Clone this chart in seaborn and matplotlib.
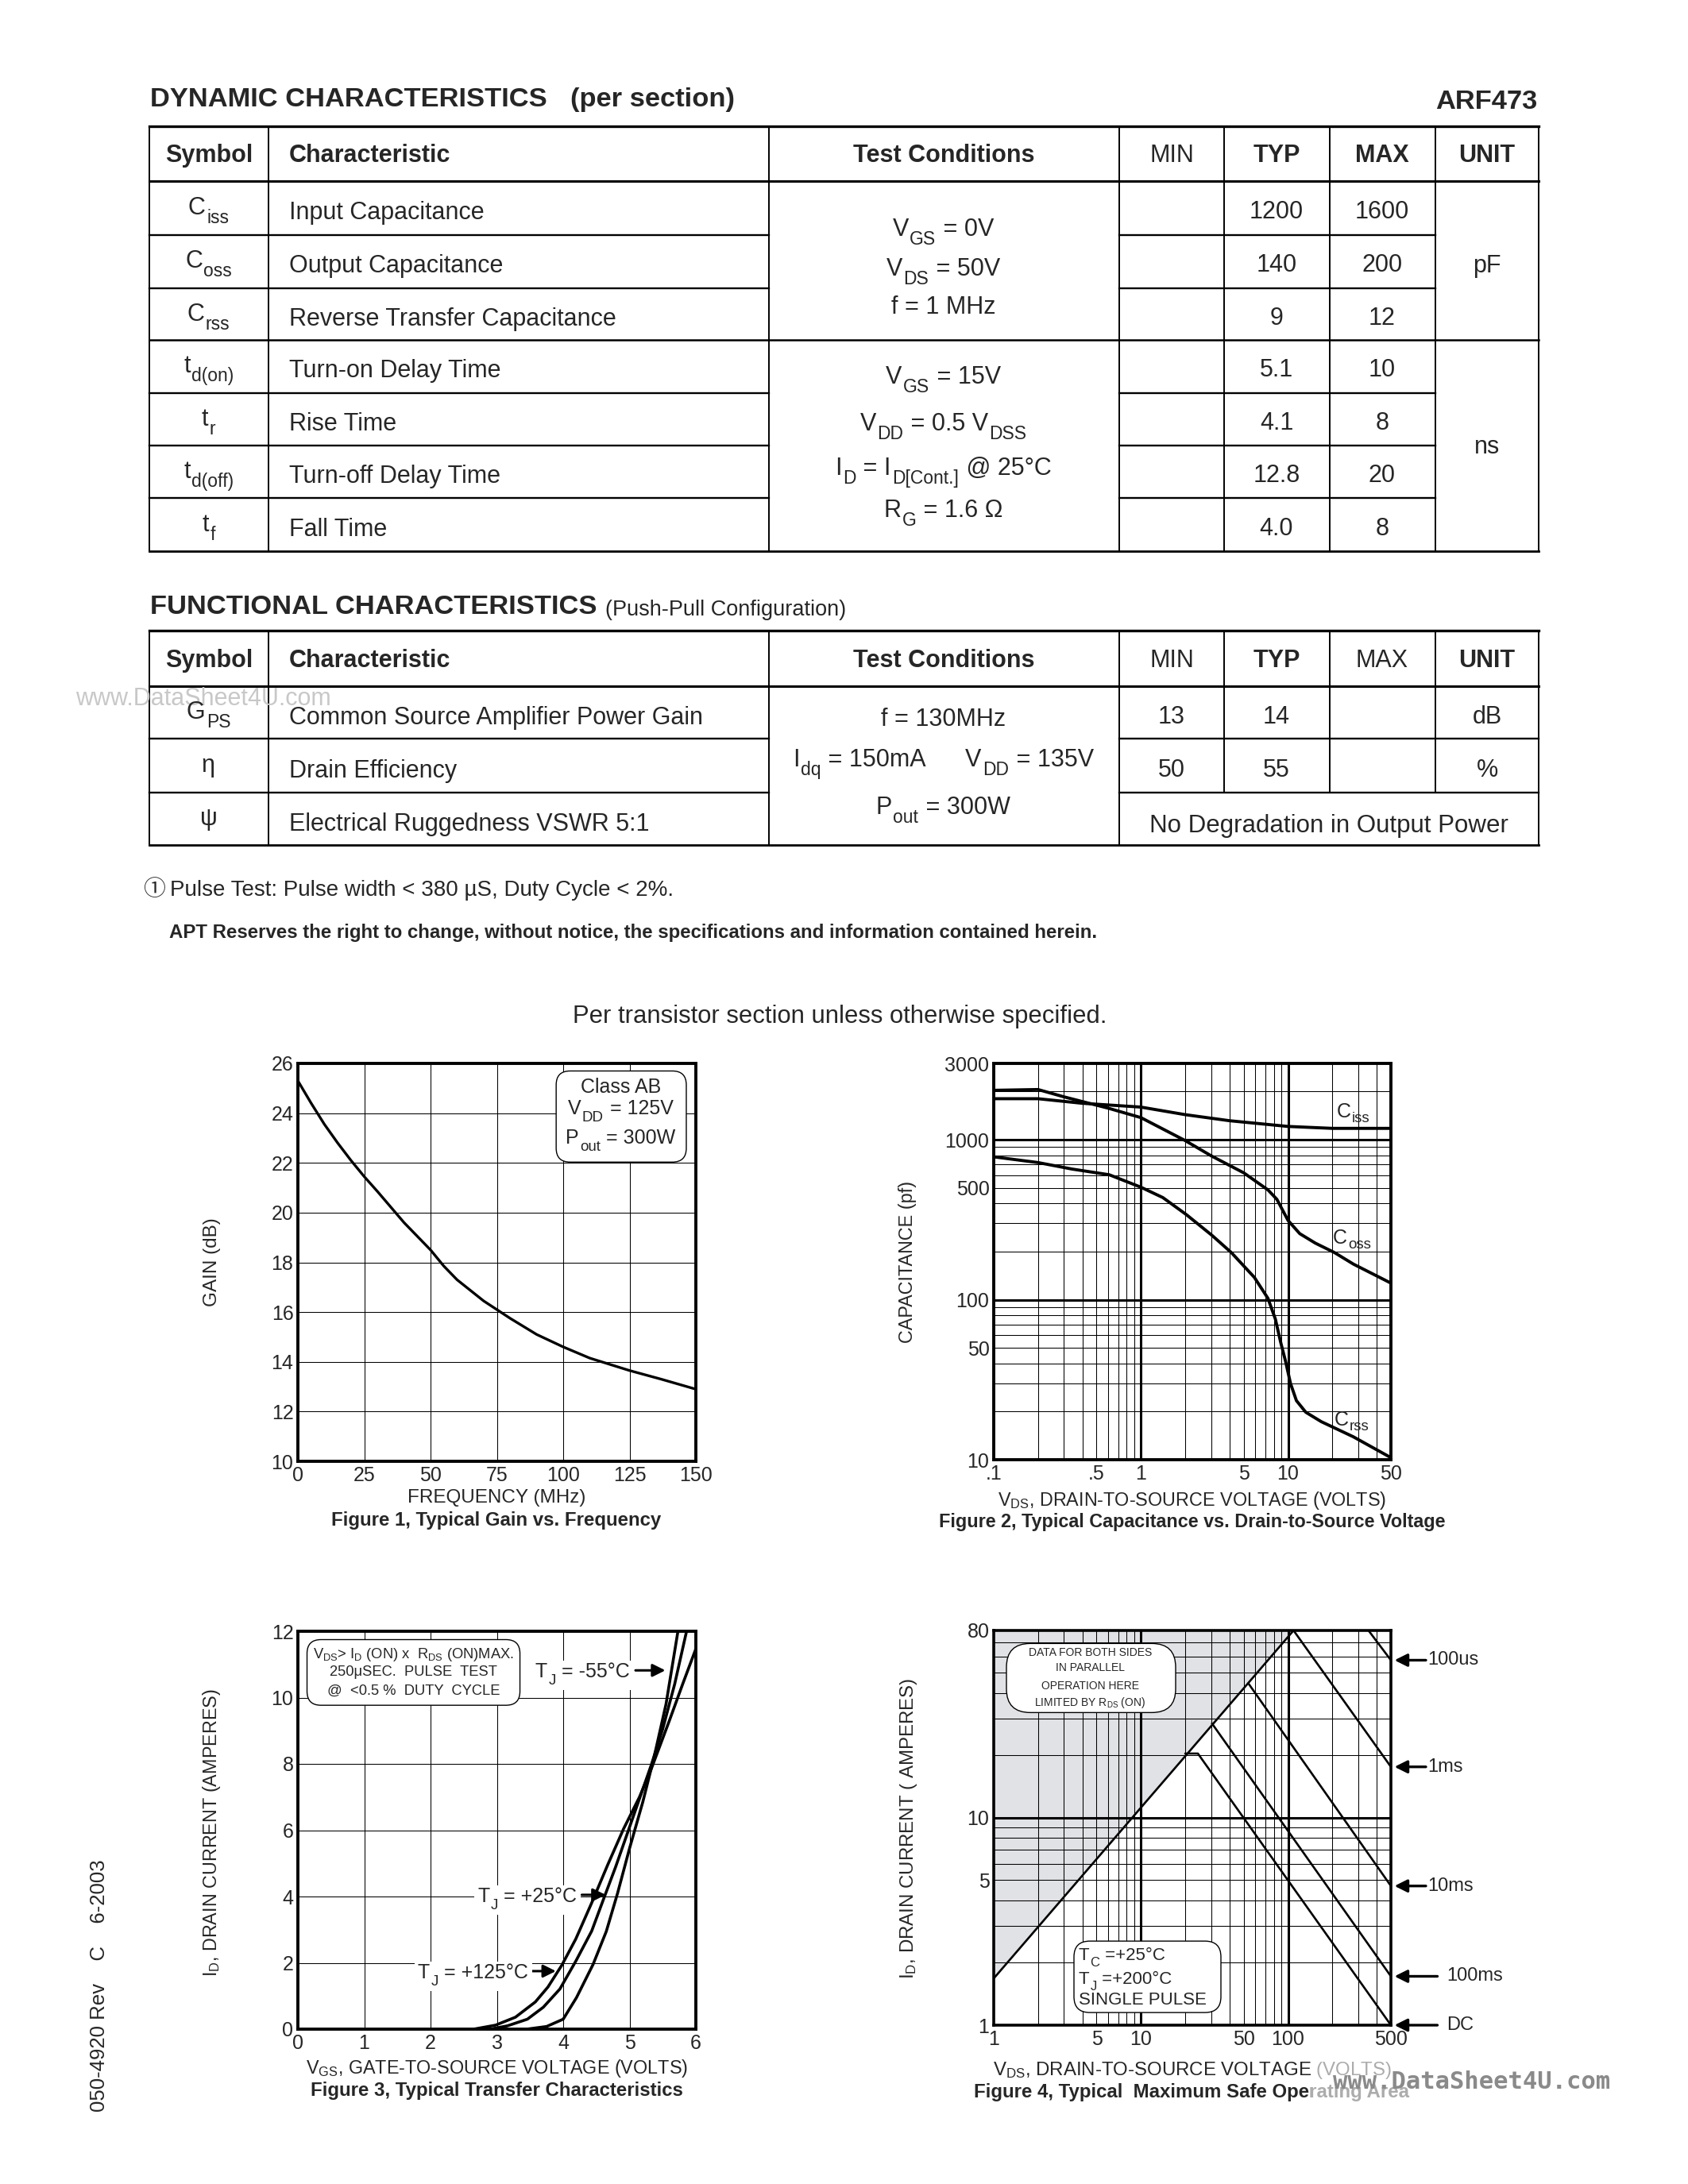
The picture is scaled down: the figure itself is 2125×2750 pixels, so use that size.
import matplotlib
matplotlib.use("Agg")
import matplotlib.pyplot as plt
from matplotlib.patches import FancyBboxPatch, Rectangle
from matplotlib.ticker import LogLocator, NullFormatter
import seaborn as sns

# ---------------- data ----------------
# Fig 1: gain vs frequency
freq_mhz = [0, 5, 10, 15, 20, 25, 30, 40, 50, 55, 60, 70, 75, 80, 90, 100, 110, 125, 137, 150]
gain_db = [25.3, 24.4, 23.55, 22.8, 22.1, 21.45, 20.85, 19.6, 18.5, 17.85, 17.3, 16.45,
           16.1, 15.75, 15.1, 14.6, 14.15, 13.65, 13.3, 12.9]

# Fig 2: capacitance vs VDS
vds_ciss = [0.1, 0.2, 0.4, 1, 2, 4, 10, 20, 50]
ciss_pf = [1805, 1805, 1690, 1600, 1435, 1315, 1211, 1178, 1178]
vds_coss = [0.1, 0.2, 0.3, 0.6, 1, 2, 3, 5, 7.3, 8.4, 10, 12, 15.3, 20.7, 27.8, 50]
coss_pf = [2037, 2060, 1854, 1575, 1375, 988, 794, 621, 486, 424, 313, 259, 226, 197, 167, 127]
vds_crss = [0.1, 0.2, 0.34, 0.61, 1, 1.41, 2.04, 3.05, 4.12, 5.9, 7.3, 8.2, 8.9, 9.6,
            10.4, 11.4, 13.2, 16.8, 27.8, 50]
crss_pf = [782, 720, 656, 604, 505, 435, 340, 252, 197, 138, 102, 75.7, 54.4, 41.5,
           29.9, 23.4, 19.8, 17.3, 13.9, 10.3]

# Fig 3: transfer characteristics
vgs_m55 = [3.45, 3.75, 4.0, 4.2, 4.45, 4.65, 4.82, 5.0, 5.2, 5.37, 5.55, 5.73]
id_m55 = [0, 0.08, 0.3, 0.95, 1.95, 2.95, 4.1, 5.45, 6.85, 8.2, 9.8, 12]
vgs_p25 = [2.9, 3.16, 3.46, 3.7, 3.95, 4.19, 4.43, 4.61, 4.79, 4.97, 5.15, 5.33, 5.5, 5.68, 5.86]
id_p25 = [0, 0.1, 0.3, 0.66, 1.21, 2.05, 2.96, 3.93, 4.89, 5.92, 6.95, 7.98, 9.05, 10.4, 12]
vgs_p125 = [2.65, 2.98, 3.28, 3.58, 3.77, 3.98, 4.19, 4.43, 4.67, 4.91, 5.15, 5.33, 5.6, 5.8, 6.0]
id_p125 = [0, 0.12, 0.36, 0.82, 1.27, 1.93, 2.72, 3.81, 4.95, 6.04, 7.0, 7.86, 9.3, 10.4, 11.47]

# Fig 4: safe operating area
soa_rds_v = [1, 109]
soa_rds_a = [1.68, 80]
soa_100us_v = [352, 500]
soa_100us_a = [80, 57.5]
soa_1ms_v = [109, 500]
soa_1ms_a = [80, 17.6]
soa_10ms_v = [53.7, 500]
soa_10ms_a = [44.5, 4.69]
soa_100ms_v = [30.4, 500]
soa_100ms_a = [28.5, 1.72]
soa_dc_v = [20.0, 24.4, 500]
soa_dc_a = [20.4, 20.4, 1.0]
soa_labels = ["100us", "1ms", "10ms", "100ms", "DC"]
soa_label_a = [57.5, 17.6, 4.69, 1.72, 1.0]

# tables (text, subscript) pairs
dyn_symbols = [("C", "iss"), ("C", "oss"), ("C", "rss"), ("t", "d(on)"),
               ("t", "r"), ("t", "d(off)"), ("t", "f")]
dyn_names = ["Input Capacitance", "Output Capacitance", "Reverse Transfer Capacitance",
             "Turn-on Delay Time", "Rise Time", "Turn-off Delay Time", "Fall Time"]
dyn_typ = ["1200", "140", "9", "5.1", "4.1", "12.8", "4.0"]
dyn_max = ["1600", "200", "12", "10", "8", "20", "8"]
func_symbols = [("G", "PS"), ("η", ""), ("ψ", "")]
func_names = ["Common Source Amplifier Power Gain", "Drain Efficiency",
              "Electrical Ruggedness VSWR 5:1"]
func_min = ["13", "50"]
func_typ = ["14", "55"]
func_unit = ["dB", "%"]

# ---------------- style ----------------
sns.set_style("white")
plt.rcParams["font.family"] = ["Liberation Sans", "DejaVu Sans"]
plt.rcParams["mathtext.fontset"] = "custom"
plt.rcParams["mathtext.rm"] = "Liberation Sans"
plt.rcParams["mathtext.it"] = "Liberation Sans:italic"
plt.rcParams["mathtext.bf"] = "Liberation Sans:bold"

W, H = 2125, 2750
fig = plt.figure(figsize=(21.25, 27.5), dpi=100)
fig.patch.set_facecolor("white")
renderer = fig.canvas.get_renderer()


def page_layer(z=0):
    a = fig.add_axes([0, 0, 1, 1], zorder=z)
    a.set_xlim(0, W)
    a.set_ylim(H, 0)
    a.axis("off")
    a.patch.set_alpha(0)
    return a


bg = page_layer(0)


def page_axes(x0, y0, x1, y1):
    return fig.add_axes([x0 / W, 1 - y1 / H, (x1 - x0) / W, (y1 - y0) / H])


def hl(y, x0, x1, lw):
    bg.plot([x0, x1], [y, y], color="k", lw=lw, solid_capstyle="projecting")


def vl(x, y0, y1, lw):
    bg.plot([x, x], [y0, y1], color="k", lw=lw, solid_capstyle="projecting")


def put(x, y, s, size=22, weight="normal", ha="left", va="baseline", **kw):
    bg.text(x, y, s, fontsize=size, fontweight=weight, ha=ha, va=va, **kw)


def rich(x, y, parts, size=22, ha="left", on=None, drop=0.36, backdrop=False):
    """parts: alternating normal / subscript strings, starting with normal."""
    on = bg if on is None else on
    em = size * 100 / 72
    placed = []
    cx = 0.0
    for i, s in enumerate(parts):
        if not s:
            continue
        sub = i % 2 == 1
        t = on.text(0, y + (drop * em if sub else 0), s, zorder=4,
                    fontsize=size * (0.75 if sub else 1), ha="left", va="baseline")
        w = t.get_window_extent(renderer).width
        placed.append((t, cx))
        cx += w + (0.03 * em if sub else 0.04 * em)
    shift = {"left": 0, "center": -cx / 2, "right": -cx}[ha]
    for t, off in placed:
        t.set_x(x + shift + off)
    if backdrop:
        on.add_patch(Rectangle((x + shift - 4, y - 0.85 * em), cx + 8, 1.5 * em,
                               fc="white", ec="none", zorder=3))


cols = [188, 338, 968, 1409, 1541, 1674, 1807, 1937]
col_c = {"sym": 263, "name": 364, "cond": 1188, "min": 1475, "typ": 1607,
         "max": 1740, "unit": 1872}


def header(yc, max_bold):
    yb = yc + 11
    put(col_c["sym"], yb, "Symbol", weight="bold", ha="center")
    put(col_c["name"], yb, "Characteristic", weight="bold")
    put(col_c["cond"], yb, "Test Conditions", weight="bold", ha="center")
    put(col_c["min"], yb, "MIN", ha="center")
    put(col_c["typ"], yb, "TYP", weight="bold", ha="center")
    put(col_c["max"], yb, "MAX", weight="bold" if max_bold else "normal", ha="center")
    put(col_c["unit"], yb, "UNIT", weight="bold", ha="center")


# ---------------- table 1 ----------------
put(189, 134, "DYNAMIC CHARACTERISTICS", size=24.8, weight="bold")
put(718, 134, "(per section)", size=24.8, weight="bold")
put(1935, 137, "ARF473", size=24.8, weight="bold", ha="right")

t1 = [158.5, 227.5, 295.6, 362.8, 428.3, 494.6, 560.9, 627.3, 693.8]
hl(t1[0], cols[0], cols[-1], 2.4)
hl(t1[1], cols[0], cols[-1], 2.2)
for y in t1[2:-1]:
    if y == 428.3:
        hl(y, cols[0], cols[-1], 1.8)
    else:
        hl(y, cols[0], cols[2], 1.7)
        hl(y, cols[3], cols[6], 1.7)
hl(t1[-1], cols[0], cols[-1], 2.0)
for x in cols:
    vl(x, t1[0], t1[-1], 1.4)

header((t1[0] + t1[1]) / 2, True)
for i in range(7):
    yc = (t1[i + 1] + t1[i + 2]) / 2
    rich(col_c["sym"], yc + 8, dyn_symbols[i], ha="center")
    put(col_c["name"], yc + 14, dyn_names[i])
    put(col_c["typ"], yc + 13, dyn_typ[i], ha="center")
    put(col_c["max"], yc + 13, dyn_max[i], ha="center")

rich(col_c["cond"], 297, ["V", "GS", " = 0V"], ha="center")
rich(col_c["cond"], 347, ["V", "DS", " = 50V"], ha="center")
put(col_c["cond"], 395, "f = 1 MHz", ha="center")
rich(col_c["cond"], 483, ["V", "GS", " = 15V"], ha="center")
rich(col_c["cond"], 542, ["V", "DD", " = 0.5 V", "DSS"], ha="center")
rich(col_c["cond"], 598, ["I", "D", " = I", "D[Cont.]", " @ 25°C"], ha="center")
rich(col_c["cond"], 651, ["R", "G", " = 1.6 Ω"], ha="center")
put(col_c["unit"], 343, "pF", ha="center")
put(col_c["unit"], 571, "ns", ha="center")

# ---------------- table 2 ----------------
put(189, 773, "FUNCTIONAL CHARACTERISTICS", size=24.8, weight="bold")
put(762, 775, "(Push-Pull Configuration)", size=19.5)

t2 = [793.6, 863.6, 930.4, 998.2, 1063.6]
hl(t2[0], cols[0], cols[-1], 2.4)
hl(t2[1], cols[0], cols[-1], 2.2)
for y in t2[2:4]:
    hl(y, cols[0], cols[2], 1.7)
    hl(y, cols[3], cols[-1], 1.7)
hl(t2[-1], cols[0], cols[-1], 2.0)
for x in [cols[0], cols[1], cols[2], cols[3], cols[7]]:
    vl(x, t2[0], t2[-1], 1.4)
for x in cols[4:7]:
    vl(x, t2[0], t2[3], 1.4)

put(95, 880, "www.DataSheet4U.com", size=22, va="center", color="#c8c8c8")
header((t2[0] + t2[1]) / 2, False)
for i in range(3):
    yc = (t2[i + 1] + t2[i + 2]) / 2
    rich(col_c["sym"], yc + 8, func_symbols[i], ha="center")
    put(col_c["name"], yc + 15, func_names[i])
for i in range(2):
    yc = (t2[i + 1] + t2[i + 2]) / 2
    put(col_c["min"], yc + 14, func_min[i], ha="center")
    put(col_c["typ"], yc + 14, func_typ[i], ha="center")
    put(col_c["unit"], yc + 14, func_unit[i], ha="center")
put(1673, 1048, "No Degradation in Output Power", ha="center", size=22.5)
put(col_c["cond"], 914, "f = 130MHz", ha="center")
rich(col_c["cond"], 965, ["I", "dq", " = 150mA      V", "DD", " = 135V"], ha="center")
rich(col_c["cond"], 1025, ["P", "out", " = 300W"], ha="center")

put(180, 1128, "①", size=20, family=["Noto Sans CJK JP", "DejaVu Sans"])
put(214, 1128, "Pulse Test: Pulse width < 380 µS, Duty Cycle < 2%.", size=20)
put(213, 1181, "APT Reserves the right to change, without notice, the specifications "
    "and information contained herein.", size=17.3, weight="bold")
put(1057, 1288, "Per transistor section unless otherwise specified.", size=22.3, ha="center")
put(125, 2500, "050-4920 Rev    C    6-2003", size=18.5, rotation=90,
    ha="center", va="center")

TICK = 18


def frame(ax, lw=2.8):
    for s in ax.spines.values():
        s.set_visible(True)
        s.set_linewidth(lw)
        s.set_color("k")
    ax.tick_params(which="both", length=0, labelsize=TICK, pad=4)
    ax.set_axisbelow("line")


def log_grid(ax):
    for axis in (ax.xaxis, ax.yaxis):
        axis.set_minor_locator(LogLocator(base=10, subs=range(1, 10), numticks=30))
        axis.set_minor_formatter(NullFormatter())
    ax.grid(True, which="both", color="k", lw=0.75)


def rbox(ax, x0, y0, x1, y1, r=0.035):
    ax.add_patch(FancyBboxPatch((x0, y0), x1 - x0, y1 - y0,
                                boxstyle=f"round,pad=0,rounding_size={r}",
                                transform=ax.transAxes, fc="white", ec="k",
                                lw=1.0, zorder=3))


def arrow(ax, xy, xytext, coords, lw=2.2):
    ax.annotate("", xy=xy, xytext=xytext, xycoords=coords, textcoords=coords,
                arrowprops=dict(arrowstyle="-|>", color="k", lw=lw,
                                mutation_scale=24, shrinkA=0, shrinkB=0),
                zorder=5)


# ---------------- Figure 1 ----------------
ax1 = page_axes(375, 1339, 876, 1840)
sns.lineplot(x=freq_mhz, y=gain_db, ax=ax1, color="k", linewidth=2.4,
             sort=False, estimator=None)
ax1.set_xlim(0, 150)
ax1.set_ylim(10, 26)
ax1.set_xticks(range(0, 151, 25))
ax1.set_yticks(range(10, 27, 2))
ax1.grid(True, color="k", lw=0.75)
frame(ax1)
ax1.set_xlabel("FREQUENCY (MHz)", fontsize=17.5, va="baseline")
ax1.xaxis.set_label_coords(0.5, -0.103)
ax1.set_ylabel("GAIN (dB)", fontsize=17.5, va="center")
ax1.yaxis.set_label_coords(-0.216, 0.5)
rbox(ax1, 0.649, 0.752, 0.976, 0.981)
put(625, 1914, "Figure 1, Typical Gain vs. Frequency", size=17.3, weight="bold",
    ha="center", va="center")

# ---------------- Figure 2 ----------------
ax2 = page_axes(1251, 1339, 1751, 1838)
ax2.set_xscale("log")
ax2.set_yscale("log")
for vx, vy in [(vds_ciss, ciss_pf), (vds_coss, coss_pf), (vds_crss, crss_pf)]:
    sns.lineplot(x=vx, y=vy, ax=ax2, color="k", linewidth=2.8, sort=False, estimator=None)
ax2.set_xlim(0.1, 50)
ax2.set_ylim(10, 3000)
log_grid(ax2)
ax2.set_xticks([0.1, 0.5, 1, 5, 10, 50])
ax2.set_xticklabels([".1", ".5", "1", "5", "10", "50"])
ax2.set_yticks([10, 50, 100, 500, 1000, 3000])
ax2.set_yticklabels(["10", "50", "100", "500", "1000", "3000"])
for v in (1, 10):
    ax2.axvline(v, color="k", lw=2.2, zorder=1.6)
for v in (100, 1000):
    ax2.axhline(v, color="k", lw=2.2, zorder=1.6)
frame(ax2)
ax2.set_xlabel(r"V$_{\rm DS}$, DRAIN-TO-SOURCE VOLTAGE (VOLTS)", fontsize=16.8, va="baseline")
ax2.xaxis.set_label_coords(0.5, -0.116)
ax2.set_ylabel("CAPACITANCE (pf)", fontsize=16.8, va="center")
ax2.yaxis.set_label_coords(-0.218, 0.5)
put(1501, 1916, "Figure 2, Typical Capacitance vs. Drain-to-Source Voltage", size=16.8,
    weight="bold", ha="center", va="center")

# ---------------- Figure 3 ----------------
ax3 = page_axes(375, 2054, 876, 2555)
for vx, vy in [(vgs_m55, id_m55), (vgs_p25, id_p25), (vgs_p125, id_p125)]:
    sns.lineplot(x=vx, y=vy, ax=ax3, color="k", linewidth=2.6, sort=False, estimator=None)
ax3.set_xlim(0, 6)
ax3.set_ylim(0, 12)
ax3.set_xticks(range(0, 7))
ax3.set_yticks(range(0, 13, 2))
ax3.grid(True, color="k", lw=0.75)
frame(ax3)
ax3.set_xlabel(r"V$_{\rm GS}$, GATE-TO-SOURCE VOLTAGE (VOLTS)", fontsize=16.8, va="baseline")
ax3.xaxis.set_label_coords(0.5, -0.112)
ax3.set_ylabel(r"I$_{\rm D}$, DRAIN CURRENT (AMPERES)", fontsize=16.8, va="center")
ax3.yaxis.set_label_coords(-0.216, 0.494)
rbox(ax3, 0.023, 0.814, 0.558, 0.979)
ax3.text(0.29, 0.942, r"V$_{\rm DS}$> I$_{\rm D}$ (ON) x  R$_{\rm DS}$ (ON)MAX.",
         transform=ax3.transAxes, fontsize=13.2, ha="center", va="center", zorder=4)
ax3.text(0.29, 0.897, "250μSEC.  PULSE  TEST", transform=ax3.transAxes, fontsize=13.2,
         ha="center", va="center", zorder=4)
ax3.text(0.29, 0.850, "@  <0.5 %  DUTY  CYCLE", transform=ax3.transAxes, fontsize=13.2,
         ha="center", va="center", zorder=4)
arrow(ax3, (5.54, 10.82), (5.09, 10.82), "data")
arrow(ax3, (4.64, 4.05), (4.28, 4.05), "data")
arrow(ax3, (3.89, 1.75), (3.52, 1.75), "data")
put(625, 2633, "Figure 3, Typical Transfer Characteristics", size=17.3, weight="bold",
    ha="center", va="center")

# ---------------- Figure 4 ----------------
ax4 = page_axes(1251, 2053, 1751, 2550)
ax4.set_xscale("log")
ax4.set_yscale("log")
ax4.fill_between(soa_rds_v, soa_rds_a, 80, color="#e1e2e5", lw=0, zorder=0.8)
for vx, vy in [(soa_rds_v, soa_rds_a), (soa_100us_v, soa_100us_a), (soa_1ms_v, soa_1ms_a),
               (soa_10ms_v, soa_10ms_a), (soa_100ms_v, soa_100ms_a), (soa_dc_v, soa_dc_a)]:
    sns.lineplot(x=vx, y=vy, ax=ax4, color="k", linewidth=1.9, sort=False, estimator=None)
ax4.set_xlim(1, 500)
ax4.set_ylim(1, 80)
log_grid(ax4)
ax4.set_xticks([1, 5, 10, 50, 100, 500])
ax4.set_xticklabels(["1", "5", "10", "50", "100", "500"])
ax4.set_yticks([1, 5, 10, 80])
ax4.set_yticklabels(["1", "5", "10", "80"])
for v in (10, 100):
    ax4.axvline(v, color="k", lw=2.2, zorder=1.6)
ax4.axhline(10, color="k", lw=2.2, zorder=1.6)
frame(ax4, 2.6)
ax4.set_xlabel(r"V$_{\rm DS}$, DRAIN-TO-SOURCE VOLTAGE (VOLTS)", fontsize=17.3, va="baseline")
ax4.xaxis.set_label_coords(0.5, -0.127)
ax4.set_ylabel(r"I$_{\rm D}$, DRAIN CURRENT ( AMPERES)", fontsize=17.3, va="center")
ax4.yaxis.set_label_coords(-0.214, 0.498)
rbox(ax4, 0.032, 0.792, 0.458, 0.967, r=0.06)
for txt, fy in [("DATA FOR BOTH SIDES", 0.9443), ("IN PARALLEL", 0.9058),
                ("OPERATION HERE", 0.8582), (r"LIMITED BY R$_{\rm DS}$ (ON)", 0.8176)]:
    ax4.text(0.243, fy, txt, transform=ax4.transAxes, fontsize=10, ha="center",
             va="center", zorder=4)
rbox(ax4, 0.202, 0.032, 0.572, 0.213, r=0.04)
ax4.text(0.2136, 0.0628, "SINGLE PULSE", transform=ax4.transAxes, fontsize=16,
         ha="left", va="center", zorder=4)
ytr = ax4.get_yaxis_transform()
for lab, a in zip(soa_labels, soa_label_a):
    if lab in ("100ms", "DC"):
        tail, lx = 1.117, 1.140
    else:
        tail, lx = 1.088, 1.092
    arrow(ax4, (1.009, a), (tail, a), ytr, lw=2.4)
    ax4.text(lx, a, lab, transform=ytr, fontsize=17, ha="left", va="center")
put(1500, 2635, "Figure 4, Typical  Maximum Safe Operating Area", size=17.3, weight="bold",
    ha="center", va="center")

# ---------------- text layer over the charts ----------------
top = page_layer(10)
# fig 1 box
top.text(782, 1376, "Class AB", fontsize=18, ha="center", va="baseline")
rich(782, 1403, ["V", "DD", " = 125V"], size=18, ha="center", on=top)
rich(782, 1440, ["P", "out", " = 300W"], size=18, ha="center", on=top)
# fig 2 curve names
rich(1683, 1407, ["C", "iss"], size=18, on=top, drop=0.22)
rich(1678, 1566, ["C", "oss"], size=18, on=top, drop=0.22)
rich(1680, 1795, ["C", "rss"], size=18, on=top, drop=0.22)
# fig 3 temperature labels
rich(674, 2112, ["T", "J", " = -55°C"], size=18, on=top, backdrop=True)
rich(601, 2395, ["T", "J", " = +25°C"], size=18, on=top, backdrop=True)
rich(526, 2491, ["T", "J", " = +125°C"], size=18, on=top, backdrop=True)
# fig 4 conditions box
rich(1358, 2468, ["T", "C", " =+25°C"], size=16, on=top)
rich(1358, 2498, ["T", "J", " =+200°C"], size=16, on=top)

# watermark
top.add_patch(Rectangle((1650, 2588), 140, 62, fc="white", ec="none", alpha=0.62))
top.text(1678, 2622, "www.DataSheet4U.com", fontsize=22, fontweight="bold",
         family="DejaVu Sans Mono", color="#8a8a8a", va="center")

fig.savefig("out.png", dpi=100)
